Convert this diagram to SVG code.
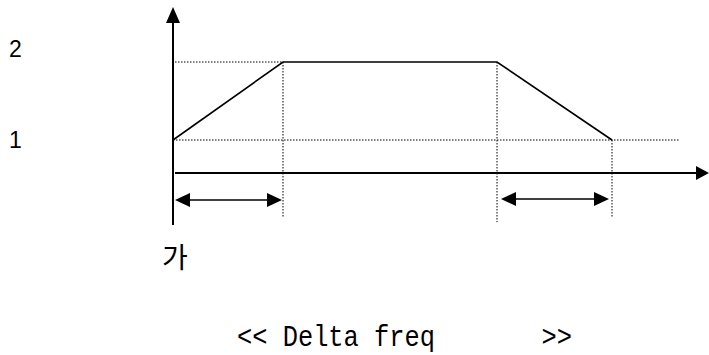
<svg xmlns="http://www.w3.org/2000/svg" width="709" height="355" viewBox="0 0 709 355">
<style>
.axis{stroke:#000;stroke-width:2;fill:none}
.line{stroke:#000;stroke-width:1.6;fill:none}
.dot{stroke:#000;stroke-width:1;stroke-dasharray:1.5,1.5;fill:none}
.lbl{font-family:"Liberation Sans",Arial,sans-serif;font-size:23px;fill:#000}
.ko{font-family:"Noto Sans CJK KR",sans-serif;font-size:28px;fill:#000}
.mono{font-family:"Liberation Mono","DejaVu Sans Mono",monospace;font-size:29px;fill:#000;white-space:pre}
</style>
<g id="guides">
<line class="dot" x1="175" y1="62" x2="283" y2="62"/>
<line class="dot" x1="173" y1="140" x2="680" y2="140"/>
<line class="dot" x1="283" y1="62" x2="283" y2="218"/>
<line class="dot" x1="497" y1="62" x2="497" y2="222"/>
<line class="dot" x1="612" y1="140" x2="612" y2="218"/>
</g>
<g id="axes">
<line class="axis" x1="173" y1="225" x2="173" y2="22"/>
<path d="M166,23 L173,7 L180,23 Z" fill="#000"/>
<line class="axis" x1="175" y1="173" x2="697" y2="173"/>
<path d="M696,166 L709,173 L696,180 Z" fill="#000"/>
</g>
<g id="curve">
<polyline class="line" points="173,140 283,62 497,62 612,140"/>
</g>
<g id="connectors">
<line class="line" x1="190" y1="200" x2="267" y2="200"/>
<path d="M175,200 L190,193 L190,207 Z" fill="#000"/>
<path d="M282,200 L267,193 L267,207 Z" fill="#000"/>
<line class="line" x1="516" y1="199" x2="594" y2="199"/>
<path d="M501,199 L516,192 L516,206 Z" fill="#000"/>
<path d="M609,199 L594,192 L594,206 Z" fill="#000"/>
</g>
<g id="labels">
<text class="lbl" x="9" y="57">2</text>
<text class="lbl" x="9" y="148">1</text>
<text class="ko" x="162" y="268">가</text>
<text class="mono" x="237" y="346" textLength="335" lengthAdjust="spacingAndGlyphs">&lt;&lt; Delta freq       &gt;&gt;</text>
</g>
</svg>
